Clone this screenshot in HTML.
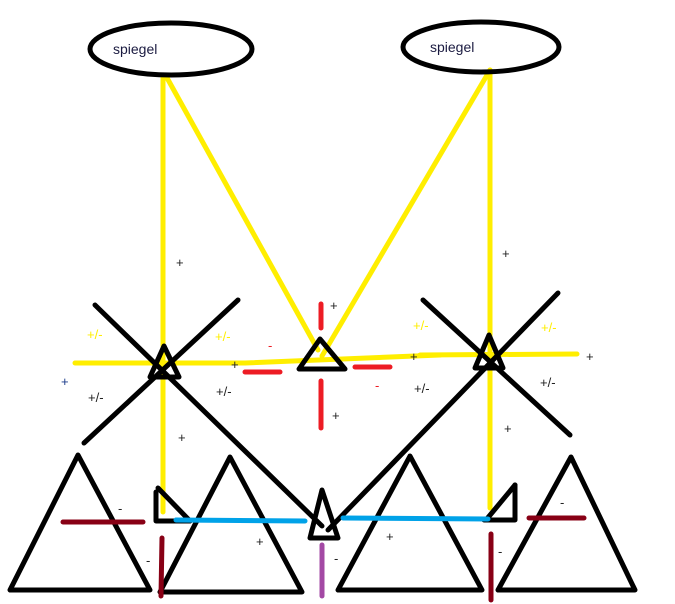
<!DOCTYPE html>
<html><head><meta charset="utf-8"><style>html,body{margin:0;padding:0;background:#fff}svg{display:block}</style></head>
<body>
<svg width="675" height="604" viewBox="0 0 675 604" xmlns="http://www.w3.org/2000/svg" font-family="Liberation Sans, sans-serif">
<g stroke-linecap="round" fill="none">
<!-- yellow -->
<g stroke="#ffee00" stroke-width="5">
<line x1="163" y1="76" x2="163" y2="512"/>
<line x1="166" y1="76" x2="318" y2="350"/>
<line x1="490" y1="70" x2="490" y2="508"/>
<line x1="490" y1="70" x2="322" y2="356"/>
<line x1="75" y1="363" x2="245" y2="363"/>
<line x1="245" y1="363" x2="440" y2="355"/>
<line x1="420" y1="355" x2="577" y2="354"/>
</g>
<!-- black X lines -->
<g stroke="#000" stroke-width="5">
<line x1="95" y1="305" x2="322" y2="526"/>
<line x1="238" y1="300" x2="84" y2="443"/>
<line x1="423" y1="300" x2="570" y2="435"/>
<line x1="558" y1="293" x2="328" y2="530"/>
</g>
<!-- ellipses -->
<g stroke="#000" stroke-width="5">
<ellipse cx="171" cy="49" rx="81" ry="26"/>
<ellipse cx="481" cy="47" rx="78" ry="25"/>
</g>
<!-- node triangles -->
<g stroke="#000" stroke-width="5" stroke-linejoin="round">
<polygon points="164,346 150,377 179,377"/>
<polygon points="320,339 299,369 345,369"/>
<polygon points="489,335 475,368 503,368"/>
<polygon points="78,455 10,590 150,590"/>
<polygon points="230,457 160,592 302,592"/>
<polygon points="322,490 310,538 338,538"/>
<polygon points="410,456 338,590 482,590"/>
<polygon points="571,457 498,590 635,590"/>
<polyline points="156,492 156,521 190,521"/>
<line x1="158" y1="488" x2="190" y2="521"/>
<polyline points="515,485 515,520 484,520"/>
<line x1="515" y1="485" x2="486" y2="520"/>
</g>
<!-- red -->
<g stroke="#ed1c24" stroke-width="5">
<line x1="321" y1="304" x2="321" y2="328"/>
<line x1="321" y1="381" x2="321" y2="428"/>
<line x1="245" y1="372" x2="280" y2="372"/>
<line x1="355" y1="367" x2="390" y2="367"/>
</g>
<!-- dark red -->
<g stroke="#880015" stroke-width="5">
<line x1="63" y1="522" x2="143" y2="522"/>
<line x1="162" y1="538" x2="161" y2="596"/>
<line x1="491" y1="534" x2="491" y2="600"/>
<line x1="529" y1="518" x2="584" y2="518"/>
</g>
<line x1="322" y1="545" x2="322" y2="596" stroke="#a349a4" stroke-width="5"/>
<g stroke="#00a2e8" stroke-width="5">
<line x1="176" y1="520" x2="305" y2="521"/>
<line x1="343" y1="518" x2="488" y2="519"/>
</g>
</g>
<g font-size="14" fill="#1a1a40">
<text x="113" y="54">spiegel</text>
<text x="430" y="52">spiegel</text>
</g>
<g font-size="13" fill="#222">
<text x="176" y="267">+</text>
<text x="231" y="369">+</text>
<text x="61" y="386" fill="#1a3a8a">+</text>
<text x="88" y="402">+/-</text>
<text x="216" y="396">+/-</text>
<text x="178" y="442">+</text>
<text x="330" y="310">+</text>
<text x="332" y="420">+</text>
<text x="410" y="361">+</text>
<text x="586" y="361">+</text>
<text x="414" y="393">+/-</text>
<text x="540" y="387">+/-</text>
<text x="502" y="258">+</text>
<text x="504" y="433">+</text>
<text x="118" y="513">-</text>
<text x="146" y="565">-</text>
<text x="256" y="546">+</text>
<text x="334" y="563">-</text>
<text x="386" y="541">+</text>
<text x="498" y="556">-</text>
<text x="560" y="507">-</text>
</g>
<g font-size="13" fill="#ffee00">
<text x="87" y="339">+/-</text>
<text x="215" y="341">+/-</text>
<text x="413" y="330">+/-</text>
<text x="541" y="332">+/-</text>
</g>
<g font-size="13" fill="#ed1c24">
<text x="268" y="350">-</text>
<text x="375" y="390">-</text>
</g>
</svg>
</body></html>
